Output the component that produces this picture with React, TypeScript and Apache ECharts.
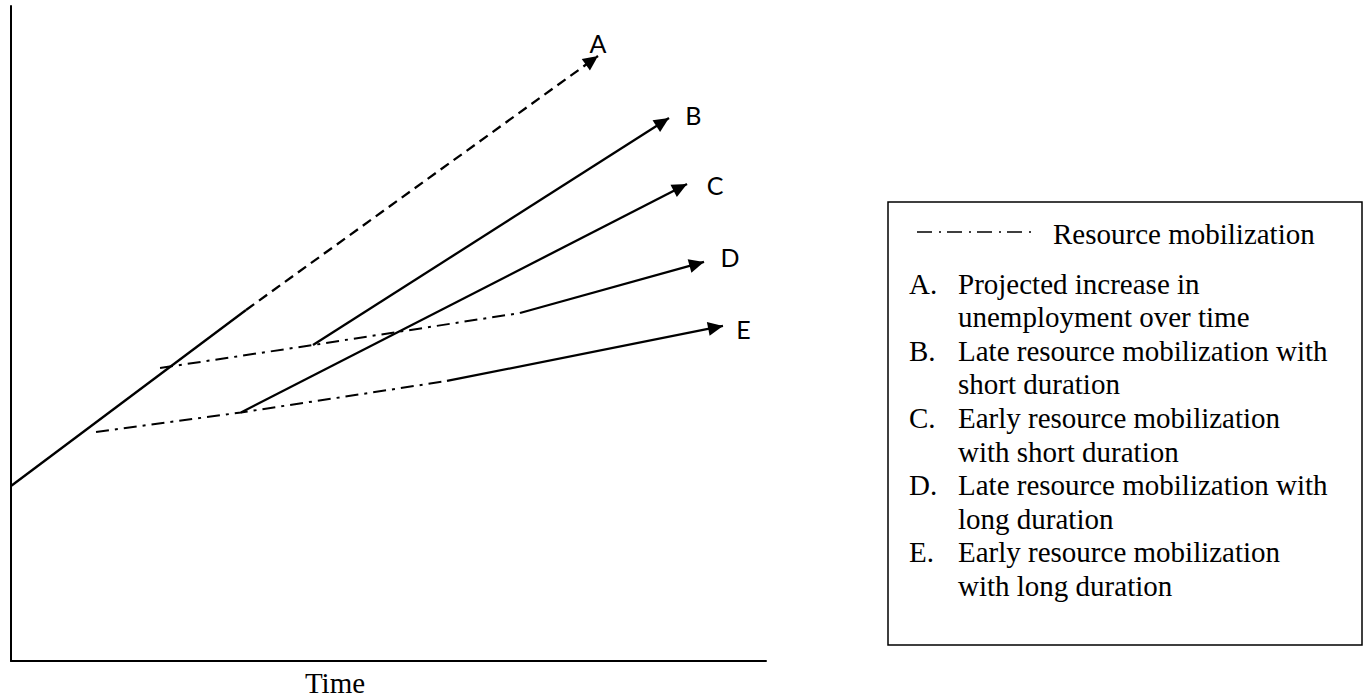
import React, { useEffect, useRef } from "react";
import * as echarts from "echarts";

// ---- Data (x: time 0..100, y: unemployment 0..100) ----
const mainSolid = [[0, 26.72], [31.13, 53.59]];
const projectedA = [[31.13, 53.59], [77.75, 92.37]];
const lowerMobilization = [[11.26, 34.96], [30.46, 37.94], [57.75, 42.75]];
const upperMobilization = [[19.74, 44.73], [40.0, 48.24], [67.42, 53.13]];
const lineB = [[40.0, 48.24], [87.15, 82.9]];
const lineC = [[30.46, 37.94], [89.54, 72.82]];
const lineD = [[67.42, 53.13], [91.79, 60.92]];
const lineE = [[57.75, 42.75], [94.3, 51.15]];

const labelNames = ["A", "B", "C", "D", "E"];
const labelPositions = [
  [77.75, 94.35],
  [90.37, 83.36],
  [93.25, 72.67],
  [95.23, 61.63],
  [97.0, 50.69],
];

const legendTitle = "Resource mobilization";
const legendLetters = ["A.", "B.", "C.", "D.", "E."];
const legendTexts = [
  ["Projected increase in", "unemployment over time"],
  ["Late resource mobilization with", "short duration"],
  ["Early resource mobilization", "with short duration"],
  ["Late resource mobilization with", "long duration"],
  ["Early resource mobilization", "with long duration"],
];
const xAxisName = "Time";

const arrowLines = [projectedA, lineB, lineC, lineD, lineE];

const SERIF = "'Liberation Serif', 'Times New Roman', serif";

export default function App() {
  const ref = useRef<HTMLDivElement>(null);

  useEffect(() => {
    if (!ref.current) return;
    const chart = echarts.init(ref.current, undefined, { renderer: "svg" });

    const solid = (data: number[][]) => ({
      type: "line",
      data,
      showSymbol: false,
      symbol: "none",
      silent: true,
      lineStyle: { color: "#000", width: 2.3, type: "solid" },
    });
    const dashDot = (data: number[][]) => ({
      type: "line",
      data,
      showSymbol: false,
      symbol: "none",
      silent: true,
      lineStyle: { color: "#000", width: 2, type: [13, 6, 3, 6] },
    });

    const arrowData = arrowLines.map((l) => {
      const a = l[l.length - 2];
      const b = l[l.length - 1];
      return [a[0], a[1], b[0], b[1]];
    });

    const graphic: any[] = [];
    // legend box
    graphic.push({
      type: "rect",
      shape: { x: 888, y: 202, width: 474, height: 443 },
      style: { fill: "none", stroke: "#000", lineWidth: 1.5 },
    });
    graphic.push({
      type: "line",
      shape: { x1: 917, y1: 232, x2: 1032, y2: 232 },
      style: { stroke: "#000", lineWidth: 1.5, lineDash: [15, 7, 2, 6] },
    });
    graphic.push({
      type: "text",
      x: 1053,
      y: 234,
      style: {
        text: legendTitle,
        fontFamily: SERIF,
        fontSize: 29,
        fill: "#000",
        verticalAlign: "middle",
      },
    });
    const startY = 283.5;
    const step = 33.6;
    legendTexts.forEach((lines, i) => {
      const y0 = startY + i * 2 * step;
      graphic.push({
        type: "text",
        x: 909,
        y: y0,
        style: {
          text: legendLetters[i],
          fontFamily: SERIF,
          fontSize: 29,
          fill: "#000",
          verticalAlign: "middle",
        },
      });
      lines.forEach((t, j) => {
        graphic.push({
          type: "text",
          x: 958,
          y: y0 + j * step,
          style: {
            text: t,
            fontFamily: SERIF,
            fontSize: 29,
            fill: "#000",
            verticalAlign: "middle",
          },
        });
      });
    });
    graphic.push({
      type: "text",
      x: 335,
      y: 683,
      style: {
        text: xAxisName,
        fontFamily: SERIF,
        fontSize: 29,
        fill: "#000",
        align: "center",
        verticalAlign: "middle",
      },
    });

    chart.setOption({
      animation: false,
      backgroundColor: "#fff",
      grid: { left: 11, top: 6, width: 755, height: 655, containLabel: false },
      xAxis: {
        type: "value",
        min: 0,
        max: 100,
        axisLine: { show: true, onZero: false, lineStyle: { color: "#000", width: 2 } },
        axisTick: { show: false },
        axisLabel: { show: false },
        splitLine: { show: false },
      },
      yAxis: {
        type: "value",
        min: 0,
        max: 100,
        axisLine: { show: true, onZero: false, lineStyle: { color: "#000", width: 2 } },
        axisTick: { show: false },
        axisLabel: { show: false },
        splitLine: { show: false },
      },
      series: [
        solid(mainSolid),
        {
          type: "line",
          data: projectedA,
          showSymbol: false,
          symbol: "none",
          silent: true,
          lineStyle: { color: "#000", width: 2.3, type: [10, 6] },
        },
        dashDot(lowerMobilization),
        dashDot(upperMobilization),
        solid(lineB),
        solid(lineC),
        solid(lineD),
        solid(lineE),
        {
          type: "custom",
          silent: true,
          clip: false,
          data: arrowData,
          encode: { x: [0, 2], y: [1, 3] },
          renderItem: (params: any, api: any) => {
            const p0 = api.coord([api.value(0), api.value(1)]);
            const p1 = api.coord([api.value(2), api.value(3)]);
            const dx = p1[0] - p0[0];
            const dy = p1[1] - p0[1];
            const len = Math.hypot(dx, dy) || 1;
            const ux = dx / len;
            const uy = dy / len;
            const nx = -uy;
            const ny = ux;
            const L = 15;
            const W = 7;
            return {
              type: "polygon",
              shape: {
                points: [
                  [p1[0], p1[1]],
                  [p1[0] - L * ux + W * nx, p1[1] - L * uy + W * ny],
                  [p1[0] - L * ux - W * nx, p1[1] - L * uy - W * ny],
                ],
              },
              style: { fill: "#000" },
            };
          },
        },
        {
          type: "custom",
          silent: true,
          clip: false,
          data: labelPositions.map((p, i) => ({ name: labelNames[i], value: p })),
          encode: { x: 0, y: 1 },
          renderItem: (params: any, api: any) => {
            const p = api.coord([api.value(0), api.value(1)]);
            return {
              type: "text",
              x: p[0],
              y: p[1],
              style: {
                text: labelNames[params.dataIndex],
                fontFamily: "Lato, 'Open Sans', sans-serif",
                fontSize: 25,
                fill: "#000",
                align: "center",
                verticalAlign: "middle",
              },
            };
          },
        },
      ],
      graphic,
    });

    return () => {
      chart.dispose();
    };
  }, []);

  return (
    <div
      ref={ref}
      style={{ position: "fixed", left: 0, top: 0, width: 1368, height: 699, background: "#fff" }}
    />
  );
}
